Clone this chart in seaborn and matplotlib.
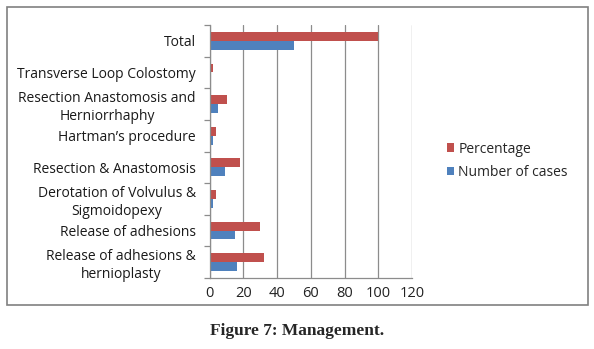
import matplotlib
matplotlib.use("Agg")
import matplotlib.pyplot as plt
import seaborn as sns
import pandas as pd
from matplotlib.patches import Rectangle
from matplotlib.ticker import FixedLocator

categories = [
    "Total",
    "Transverse Loop Colostomy",
    "Resection Anastomosis and\nHerniorrhaphy",
    "Hartman\u2019s procedure",
    "Resection & Anastomosis",
    "Derotation of Volvulus &\nSigmoidopexy",
    "Release of adhesions",
    "Release of adhesions &\nhernioplasty",
]
percentage = [100, 2, 10, 4, 18, 4, 30, 32]
number_of_cases = [50, 1, 5, 2, 9, 2, 15, 16]
series_names = ["Percentage", "Number of cases"]
x_ticks = [0, 20, 40, 60, 80, 100, 120]

df = pd.DataFrame({
    "Procedure": categories * 2,
    "Value": percentage + number_of_cases,
    "Series": [series_names[0]] * len(categories) + [series_names[1]] * len(categories),
})

sns.set_theme(style="white")
plt.rcParams["font.family"] = ["Open Sans", "DejaVu Sans"]

fig = plt.figure(figsize=(5.94, 3.49), dpi=100)
fig.patch.set_facecolor("white")
ax = fig.add_axes([209.7 / 594, 1 - 278 / 349, (412 - 209.7) / 594, (278 - 25) / 349])

palette = {"Percentage": "#C0504D", "Number of cases": "#4F81BD"}
sns.barplot(data=df, x="Value", y="Procedure", hue="Series", hue_order=series_names,
            order=categories, palette=palette, orient="h", width=0.56,
            saturation=1, ax=ax, legend=True, linewidth=0)

ax.set_xlim(0, 120)
ax.set_ylim(len(categories) - 0.5, -0.5)
ax.set_xticks(x_ticks)
ax.set_xticklabels([str(t) for t in x_ticks], fontsize=10.5, color="#222222")
ax.xaxis.grid(True, color="#8c8c8c", linewidth=0.9)
ax.yaxis.grid(False)
ax.set_axisbelow(True)
ax.set_xlabel("")
ax.set_ylabel("")
for s in ["top", "right"]:
    ax.spines[s].set_visible(False)
for s in ["left", "bottom"]:
    ax.spines[s].set_color("#8c8c8c")
    ax.spines[s].set_linewidth(0.9)

ax.tick_params(axis="y", which="major", length=0, pad=10, labelsize=10, labelcolor="#1a1a1a")
ax.yaxis.set_minor_locator(FixedLocator([i - 0.5 for i in range(len(categories) + 1)]))
ax.tick_params(axis="y", which="minor", length=4, color="#8c8c8c", width=0.9, left=True)
ax.tick_params(axis="x", which="major", length=0, pad=6)
for lbl in ax.get_yticklabels():
    lbl.set_multialignment("center")
    lbl.set_linespacing(1.25)

handles, labels = ax.get_legend_handles_labels()
ax.get_legend().remove()
fig.legend(handles, labels, loc="upper left", bbox_to_anchor=(441 / 594, 1 - 136 / 349),
           frameon=False, fontsize=10, handlelength=0.55, handleheight=0.55,
           handletextpad=0.3, labelspacing=0.6, borderaxespad=0)

fig.patches.append(Rectangle((7 / 594, 1 - 305 / 349), (588 - 7) / 594, (305 - 7) / 349,
                             transform=fig.transFigure, fill=False,
                             edgecolor="#808080", linewidth=1.2))

fig.text(0.5, 1 - 331 / 349, "Figure 7: Management.", ha="center", va="center",
         fontsize=12.5, fontweight="bold", family=["Liberation Serif", "DejaVu Serif"])

fig.savefig("out.png", dpi=100)
